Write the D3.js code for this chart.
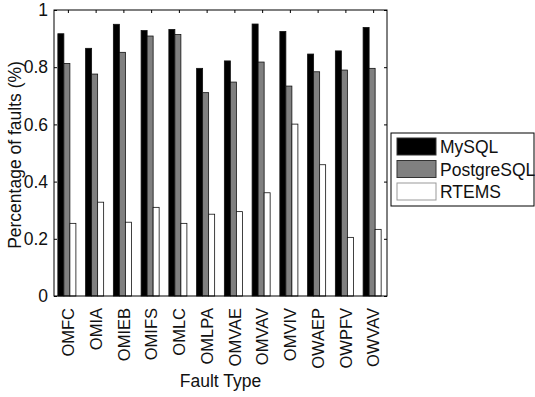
<!DOCTYPE html>
<html>
<head>
<meta charset="utf-8">
<script src="https://cdn.jsdelivr.net/npm/d3@7"></script>
<style>
  body { margin: 0; background: #fff; }
  svg { display: block; font-family: "Liberation Sans", Arial, Helvetica, sans-serif; }
</style>
</head>
<body>
<script>
"use strict";
const faultTypes = ["OMFC", "OMIA", "OMIEB", "OMIFS", "OMLC", "OMLPA", "OMVAE", "OMVAV", "OMVIV", "OWAEP", "OWPFV", "OWVAV"];
const seriesNames = ["MySQL", "PostgreSQL", "RTEMS"];
const mysqlValues = [0.917, 0.866, 0.950, 0.928, 0.932, 0.796, 0.822, 0.951, 0.925, 0.846, 0.857, 0.939];
const postgresValues = [0.813, 0.776, 0.852, 0.909, 0.914, 0.711, 0.748, 0.818, 0.734, 0.784, 0.790, 0.796];
const rtemsValues = [0.254, 0.328, 0.258, 0.310, 0.254, 0.286, 0.295, 0.361, 0.601, 0.459, 0.205, 0.233];
const yTickValues = [0, 0.2, 0.4, 0.6, 0.8, 1];
const yTickLabels = ["0", "0.2", "0.4", "0.6", "0.8", "1"];

(function() {
    const size = { width: 535, height: 397 };
    const plot = { left: 54, right: 387, top: 10, bottom: 296 };
    const colors = ["#000000", "#808080", "#ffffff"];
    const allValues = [mysqlValues, postgresValues, rtemsValues];
    const fontSize = 17.5;
    const tickFont = 16.5;

    const svg = d3.select("body").append("svg")
        .attr("width", size.width)
        .attr("height", size.height);

    const x = d3.scaleBand()
        .domain(faultTypes)
        .range([plot.left, plot.right])
        .paddingInner(0.35)
        .paddingOuter(0.175);

    const xInner = d3.scaleBand()
        .domain(seriesNames)
        .range([0, x.bandwidth()]);

    const y = d3.scaleLinear()
        .domain([0, 1])
        .range([plot.bottom, plot.top]);

    // bars
    const groups = svg.append("g").selectAll("g")
        .data(faultTypes)
        .join("g")
        .attr("transform", d => `translate(${x(d) - 1},0)`);

    groups.selectAll("rect")
        .data((d, i) => seriesNames.map((s, k) => ({ s: s, k: k, v: allValues[k][i] })))
        .join("rect")
        .attr("x", d => xInner(d.s))
        .attr("width", xInner.bandwidth())
        .attr("y", d => y(d.v))
        .attr("height", d => y(0) - y(d.v))
        .attr("fill", d => colors[d.k])
        .attr("stroke", "#111")
        .attr("stroke-width", 0.8);

    // axes box with inward ticks
    const xCenters = d3.scalePoint().domain(faultTypes).range([plot.left + x.step() / 2, plot.right - x.step() / 2]);

    const left = svg.append("g")
        .attr("transform", `translate(${plot.left},0)`)
        .call(d3.axisLeft(y).tickValues(yTickValues).tickFormat((d, i) => yTickLabels[i]).tickSizeInner(-3).tickSizeOuter(0).tickPadding(6));
    left.select(".domain").remove();
    left.selectAll("text").attr("font-size", fontSize).attr("fill", "#111");
    left.selectAll("line").attr("stroke", "#000");

    const right = svg.append("g")
        .attr("transform", `translate(${plot.right},0)`)
        .call(d3.axisRight(y).tickValues(yTickValues).tickFormat("").tickSizeInner(-3).tickSizeOuter(0));
    right.select(".domain").remove();

    const top = svg.append("g")
        .attr("transform", `translate(0,${plot.top})`)
        .call(d3.axisTop(xCenters).tickFormat("").tickSizeInner(-3).tickSizeOuter(0));
    top.select(".domain").remove();

    const bottom = svg.append("g")
        .attr("transform", `translate(0,${plot.bottom})`)
        .call(d3.axisBottom(xCenters).tickSizeInner(0).tickSizeOuter(0).tickPadding(0));
    bottom.select(".domain").remove();
    bottom.selectAll("text")
        .attr("font-size", tickFont)
        .attr("fill", "#111")
        .attr("transform", "rotate(-90)")
        .attr("text-anchor", "end")
        .attr("dy", "0.35em")
        .attr("x", -12)
        .attr("y", 0);

    svg.append("rect")
        .attr("x", plot.left)
        .attr("y", plot.top)
        .attr("width", plot.right - plot.left)
        .attr("height", plot.bottom - plot.top)
        .attr("fill", "none")
        .attr("stroke", "#000")
        .attr("stroke-width", 1);

    // axis titles
    svg.append("text")
        .attr("x", (plot.left + plot.right) / 2)
        .attr("y", 387)
        .attr("text-anchor", "middle")
        .attr("font-size", fontSize)
        .attr("fill", "#111")
        .text("Fault Type");

    svg.append("text")
        .attr("transform", `translate(21,155) rotate(-90)`)
        .attr("text-anchor", "middle")
        .attr("font-size", fontSize)
        .attr("fill", "#111")
        .text("Percentage of faults (%)");

    // legend
    const legend = svg.append("g").attr("transform", "translate(391,133)");
    legend.append("rect")
        .attr("width", 143)
        .attr("height", 73)
        .attr("fill", "#fff")
        .attr("stroke", "#000");
    const items = legend.selectAll("g.item")
        .data(seriesNames)
        .join("g")
        .attr("class", "item")
        .attr("transform", (d, i) => `translate(6,${5 + i * 22.5})`);
    items.append("rect")
        .attr("width", 39)
        .attr("height", 17)
        .attr("fill", (d, i) => colors[i])
        .attr("stroke", (d, i) => i === 2 ? "#999" : "#333");
    items.append("text")
        .attr("x", 43)
        .attr("y", 15)
        .attr("font-size", fontSize)
        .attr("fill", "#111")
        .text(d => d);
})();
</script>
</body>
</html>
